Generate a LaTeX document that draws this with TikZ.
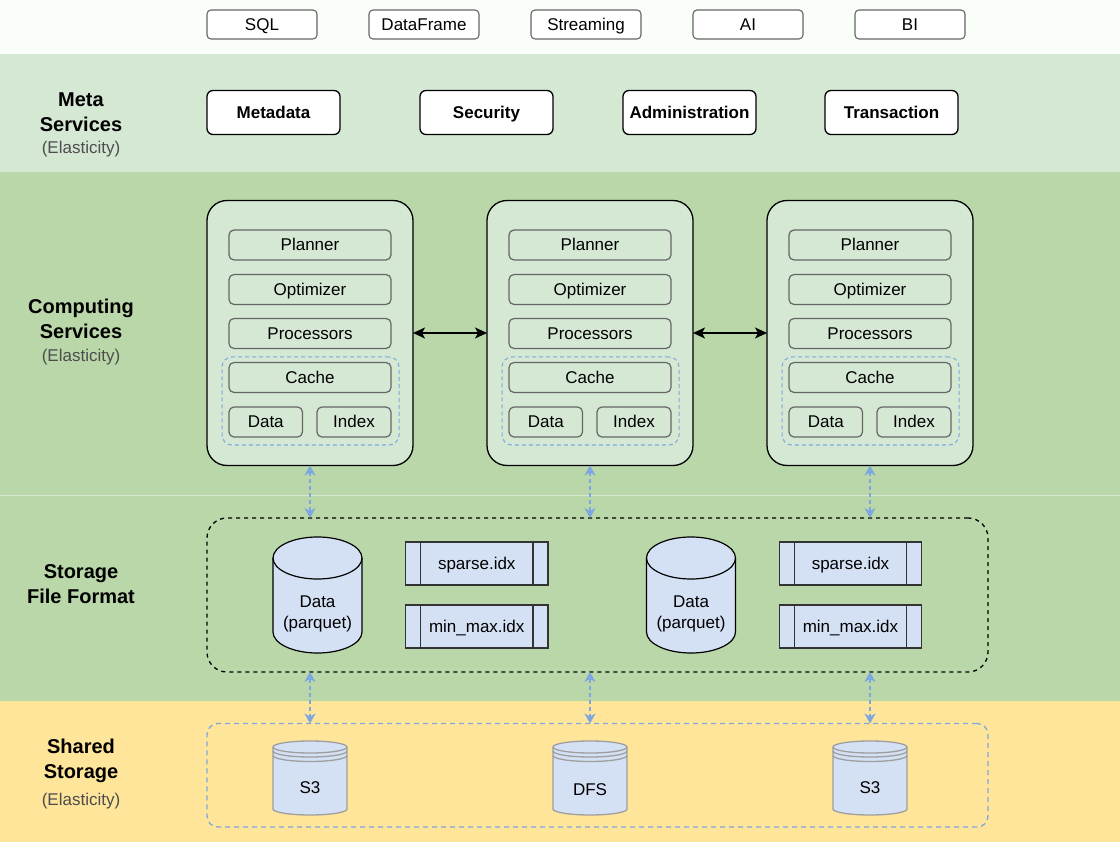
\documentclass[tikz,border=0pt]{standalone}
\usepackage{fontspec}
\setmainfont{Liberation Sans}
\usetikzlibrary{arrows.meta}
\definecolor{topbg}{HTML}{FAFEF9}
\definecolor{metaband}{HTML}{D5E8D4}
\definecolor{compband}{HTML}{B9D7A8}
\definecolor{yelband}{HTML}{FFE599}
\definecolor{cylfill}{HTML}{D4E1F5}
\definecolor{dashblue}{HTML}{7EA6E0}
\definecolor{boxgray}{HTML}{666666}
\definecolor{storegray}{HTML}{9E9E9E}
\definecolor{elgray}{HTML}{4D4D4D}
\begin{document}
\begin{tikzpicture}[x=1pt,y=-1pt,
  every node/.style={inner sep=0pt, outer sep=0pt},
  txt/.style={font=\fontsize{17}{21}\selectfont},
  tc/.style={text height=15.4pt, text depth=3.6pt},
  topbox/.style={txt, tc, draw=boxgray, fill=white, rounded corners=4pt, line width=1.1pt, minimum width=110pt, minimum height=29pt},
  metabox/.style={font=\fontsize{17}{21}\selectfont\bfseries, tc, draw=black, fill=white, rounded corners=6pt, line width=1.3pt, minimum width=133pt, minimum height=44pt},
  lefttitle/.style={font=\fontsize{20}{25}\selectfont\bfseries, align=center},
  elast/.style={font=\fontsize{17}{21}\selectfont, text=elgray},
  compbox/.style={draw=black, fill=metaband, rounded corners=20pt, line width=1.3pt, minimum width=206pt, minimum height=265pt},
  innerbox/.style={txt, tc, draw=boxgray, fill=metaband, rounded corners=5pt, line width=1.2pt, minimum height=30pt},
  cachebox/.style={draw=dashblue, dash pattern=on 4pt off 3pt, rounded corners=10pt, line width=1pt},
  storebox/.style={draw=black, dash pattern=on 4pt off 4pt, rounded corners=20pt, line width=1.3pt},
  sharebox/.style={draw=dashblue, dash pattern=on 5pt off 4pt, rounded corners=11pt, line width=1.3pt},
  procbox/.style={txt, tc, draw=black!80, fill=cylfill, line width=1.2pt, minimum height=43pt},
  cylstyle/.style={draw=black, fill=cylfill, line width=1.2pt},
  dsstyle/.style={draw=storegray, fill=cylfill, line width=1.3pt},
  blackarr/.style={draw=black, line width=1.3pt, {Stealth[length=12pt,width=11pt,inset=3pt]}-{Stealth[length=12pt,width=11pt,inset=3pt]}},
  bluearr/.style={draw=dashblue, line width=1.2pt, dash pattern=on 4pt off 3pt, {Stealth[length=10pt,width=11pt,inset=3pt]}-{Stealth[length=10pt,width=11pt,inset=3pt]}}
]
\useasboundingbox (0,0) rectangle (1120,842);
% bands
\fill[topbg] (0,0) rectangle (1120,54);
\fill[metaband] (0,54) rectangle (1120,172);
\fill[compband] (0,172) rectangle (1120,701);
\draw[white!45!compband, line width=1pt] (0,495) -- (1120,495);
\fill[yelband] (0,701) rectangle (1120,842);

% top row
\node[topbox] (sql) at (262,24.5) {SQL};
\node[topbox] (df) at (424,24.5) {DataFrame};
\node[topbox] (stream) at (586,24.5) {Streaming};
\node[topbox] (ai) at (748,24.5) {AI};
\node[topbox] (bi) at (910,24.5) {BI};

% left labels
\node[lefttitle] (mtitle) at (81,112.5) {Meta\\Services};
\node[elast] (mel) at (81,149) {(Elasticity)};
\node[lefttitle] (ctitle) at (81,318.5) {Computing\\Services};
\node[elast] (cel) at (81,357) {(Elasticity)};
\node[lefttitle] (stitle) at (81,584) {Storage\\File Format};
\node[lefttitle] (shtitle) at (81,760.5) {Shared\\Storage};
\node[elast] (shel) at (81,801) {(Elasticity)};

% meta boxes
\node[metabox] (metadata) at (273.5,112.5) {Metadata};
\node[metabox] (security) at (486.5,112.5) {Security};
\node[metabox] (admin) at (689.5,112.5) {Administration};
\node[metabox] (trans) at (891.5,112.5) {Transaction};

% computing boxes
\foreach \i/\dx in {1/0,2/280,3/560}{
  \node[compbox] (cb\i) at (310+\dx,333) {};
  \node[cachebox, minimum width=177pt, minimum height=88pt] (cz\i) at (310.5+\dx,401) {};
  \node[innerbox, minimum width=162pt] (pl\i) at (310+\dx,245) {Planner};
  \node[innerbox, minimum width=162pt] (op\i) at (310+\dx,289.5) {Optimizer};
  \node[innerbox, minimum width=162pt] (pr\i) at (310+\dx,333.5) {Processors};
  \node[innerbox, minimum width=162pt] (ca\i) at (310+\dx,377.5) {Cache};
  \node[innerbox, minimum width=73.5pt] (da\i) at (265.75+\dx,422) {Data};
  \node[innerbox, minimum width=74pt] (ix\i) at (354+\dx,422) {Index};
}

% storage file format
\node[storebox, minimum width=781pt, minimum height=154pt] (sf) at (597.5,595) {};
\foreach \cx/\nm in {317.5/dp1, 691/dp2}{
  \filldraw[cylstyle] ({\cx-44.5},558) -- ({\cx-44.5},632)
     arc[start angle=180, end angle=0, x radius=44.5, y radius=21]
     -- ({\cx+44.5},558)
     arc[start angle=0, end angle=-180, x radius=44.5, y radius=21] -- cycle;
  \draw[cylstyle, fill=none] ({\cx-44.5},558) arc[start angle=180, end angle=0, x radius=44.5, y radius=21];
  \node[txt, align=center] (\nm) at (\cx,613.5) {Data\\(parquet)};
}
\foreach \cx/\n/\w in {476.75/1/142.5, 850.5/2/142}{
  \node[procbox, minimum width=\w pt] (sp\n) at (\cx,563.5) {sparse.idx};
  \node[procbox, minimum width=\w pt] (mm\n) at (\cx,626.5) {min\_max.idx};
  \draw[draw=black!80, line width=1.2pt] ([xshift=15pt]sp\n.north west) -- ([xshift=15pt]sp\n.south west);
  \draw[draw=black!80, line width=1.2pt] ([xshift=-15pt]sp\n.north east) -- ([xshift=-15pt]sp\n.south east);
  \draw[draw=black!80, line width=1.2pt] ([xshift=15pt]mm\n.north west) -- ([xshift=15pt]mm\n.south west);
  \draw[draw=black!80, line width=1.2pt] ([xshift=-15pt]mm\n.north east) -- ([xshift=-15pt]mm\n.south east);
}

% shared storage
\node[sharebox, minimum width=781pt, minimum height=103.5pt] (ss) at (597.5,775.25) {};
\foreach \cx/\lab/\ty/\nm in {310/S3/788/s3a, 590/DFS/790/dfs, 870/S3/788/s3b}{
  \filldraw[dsstyle] ({\cx-37},747) -- ({\cx-37},809)
     arc[start angle=180, end angle=0, x radius=37, y radius=6]
     -- ({\cx+37},747)
     arc[start angle=0, end angle=-180, x radius=37, y radius=6] -- cycle;
  \draw[dsstyle, fill=none] ({\cx-37},747) arc[start angle=180, end angle=0, x radius=37, y radius=6];
  \draw[dsstyle, fill=none] ({\cx-37},751) arc[start angle=180, end angle=0, x radius=37, y radius=6];
  \draw[dsstyle, fill=none] ({\cx-37},755.5) arc[start angle=180, end angle=0, x radius=37, y radius=6];
  \node[txt, tc] (\nm) at (\cx,\ty) {\lab};
}

% connectors
\draw[blackarr] (cb1.east) -- (cb2.west);
\draw[blackarr] (cb2.east) -- (cb3.west);
\foreach \i in {1,2,3}{
  \draw[bluearr] (cb\i.south) -- (cb\i.south |- sf.north);
  \draw[bluearr] (cb\i.south |- sf.south) -- (cb\i.south |- ss.north);
}
\end{tikzpicture}
\end{document}
